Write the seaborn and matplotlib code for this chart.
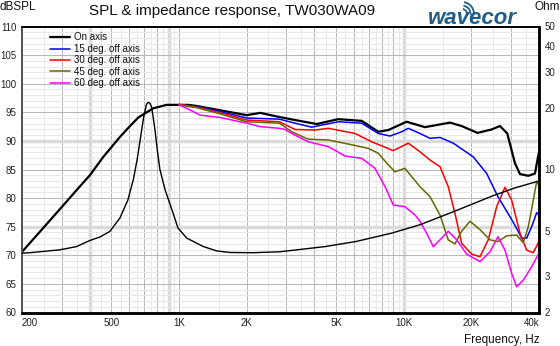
import numpy as np
import pandas as pd
import matplotlib
matplotlib.use("Agg")
import matplotlib.pyplot as plt
from matplotlib.patches import Arc
from matplotlib.ticker import NullLocator, FixedLocator
import seaborn as sns

# ---------------- data ----------------
on_axis_f = [200, 240, 300, 350, 401, 460, 546, 605, 659, 718, 768, 822, 880, 1010,
             1100, 1200, 1500, 2000, 2300, 2700, 3280, 4100, 5110, 6500, 7700, 8540,
             10300, 12430, 16060, 18100, 21300, 24600, 26820, 28900, 31260, 32920,
             35850, 38380, 39600, 40000]
on_axis_spl = [70.6, 74.1, 78.4, 81.4, 84.0, 87.2, 90.7, 92.6, 94.1, 95.0, 95.7,
               96.0, 96.3, 96.3, 96.3, 96.1, 95.4, 94.5, 94.9, 94.3, 93.65, 92.95,
               93.8, 93.5, 91.6, 91.9, 93.35, 92.4, 93.2, 92.6, 91.4, 92.0, 92.6,
               91.3, 86.1, 84.2, 83.9, 84.3, 87.2, 88.0]

deg15_f = [1000, 1200, 1500, 2000, 2800, 3280, 3890, 5110, 6500, 7700, 8690, 9790,
           10480, 11810, 13090, 14500, 16620, 20400, 23400, 26260, 29700, 31810,
           33490, 35250, 37100, 39060, 40000]
deg15_spl = [96.3, 96.0, 95.2, 94.0, 93.8, 93.1, 92.4, 93.35, 93.1, 91.3, 90.85, 91.6,
             92.2, 91.3, 90.45, 90.6, 89.6, 87.2, 84.3, 80.25, 76.75, 74.7, 73.0,
             73.0, 75.0, 77.45, 77.05]

deg30_f = [1000, 1200, 1500, 2000, 2800, 3280, 4030, 4620, 6070, 7200, 8980, 10480,
           11810, 13090, 14500, 15780, 16900, 18100, 20060, 21840, 23780, 25920,
           28220, 30230, 32920, 35250, 37720, 39600, 40000]
deg30_spl = [96.4, 95.9, 95.0, 93.65, 93.35, 92.0, 91.9, 92.2, 91.3, 89.85, 88.3, 89.6,
             88.1, 86.65, 85.5, 82.0, 77.35, 72.1, 70.2, 69.75, 72.7, 78.5, 81.9,
             79.65, 73.85, 70.9, 70.45, 72.1, 72.5]

deg45_f = [1000, 1200, 1500, 2000, 2800, 3170, 3760, 4620, 5670, 6950, 7700, 8540,
           9140, 10120, 11810, 13090, 14500, 15780, 16900, 18100, 19710, 21840,
           24200, 26260, 28720, 31810, 34040, 35850, 37720, 39060, 39600, 40000]
deg45_spl = [96.3, 95.8, 94.8, 93.35, 93.1, 91.6, 90.3, 90.15, 89.45, 88.7, 87.85,
             85.8, 84.6, 85.2, 82.0, 80.25, 77.05, 72.7, 72.0, 74.2, 75.95, 74.5,
             72.7, 72.4, 73.4, 73.55, 72.2, 75.0, 79.65, 82.9, 82.6, 82.0]

deg60_f = [1000, 1120, 1240, 1520, 2000, 2290, 2800, 2960, 3280, 3760, 4620, 5480,
           6500, 7450, 8260, 8980, 10120, 11220, 11810, 12650, 13540, 14500, 15780,
           17200, 19060, 21840, 24200, 26260, 28220, 30230, 31810, 34040, 37100,
           39600, 40000]
deg60_spl = [96.3, 95.4, 94.5, 94.1, 93.1, 92.5, 92.2, 92.0, 91.0, 89.85, 89.0, 87.35,
             86.95, 85.2, 82.0, 78.8, 78.5, 77.05, 75.95, 73.85, 71.5, 72.7, 74.2,
             72.7, 70.2, 68.9, 70.6, 73.25, 70.9, 66.85, 64.5, 65.65, 68.0, 70.05,
             70.2]

imp_f = [200, 217, 295, 350, 401, 445, 492, 546, 592, 626, 651, 675, 697, 716, 728,
         742, 756, 781, 800, 822, 866, 940, 989, 1082, 1283, 1470, 1685, 2133, 2800,
         4470, 6150, 8860, 11810, 17520, 24600, 31230, 39600, 40000]
imp_ohm = [3.90, 3.92, 4.05, 4.2, 4.5, 4.68, 4.98, 5.8, 7.1, 8.93, 11.2, 14.5, 18.2,
           20.8, 21.3, 21.1, 20.1, 15.7, 12.5, 10.0, 7.98, 6.13, 5.18, 4.62, 4.2, 4.0,
           3.93, 3.92, 3.96, 4.2, 4.45, 4.89, 5.37, 6.36, 7.4, 8.13, 8.76, 8.78]

freq_ticks = [200, 500, 1000, 2000, 5000, 10000, 20000, 40000]
freq_labels = ["200", "500", "1K", "2K", "5K", "10K", "20K", "40k"]
spl_ticks = [60, 65, 70, 75, 80, 85, 90, 95, 100, 105, 110]
ohm_ticks = [2, 3, 5, 10, 20, 30, 40, 50]

series = [
    ("On axis", on_axis_f, on_axis_spl, "black", 1.6),
    ("15 deg. off axis", deg15_f, deg15_spl, "#0000ff", 1.1),
    ("30 deg. off axis", deg30_f, deg30_spl, "#ff0000", 1.1),
    ("45 deg. off axis", deg45_f, deg45_spl, "#666600", 1.1),
    ("60 deg. off axis", deg60_f, deg60_spl, "#ff00ff", 1.1),
]

# ---------------- style ----------------
sns.set_theme(style="white")
plt.rcParams["font.family"] = ["Liberation Sans", "DejaVu Sans"]
plt.rcParams["text.color"] = "#111111"
plt.rcParams["lines.solid_joinstyle"] = "round"
plt.rcParams["lines.solid_capstyle"] = "round"

W, H = 560, 346
fig = plt.figure(figsize=(W / 100, H / 100), dpi=100)
fig.patch.set_facecolor("white")
ax = fig.add_axes([22 / W, 1 - 312.5 / H, 517 / W, 286 / H])
ax.set_facecolor("white")

ax.set_xscale("log")
ax.set_xlim(200, 40000)
ax.set_ylim(60, 110)

# grid: half-steps light, integer steps darker, a few wide pale guides
light, dark, pale = "#e8e8e8", "#b8b8b8", "#dadada"
for e in (2, 3, 4):
    for m in range(1, 10):
        for f, col in ((m * 10 ** e, dark), ((m + 0.5) * 10 ** e, light)):
            if 200 < f < 40000:
                ax.axvline(f, color=col, lw=0.75, zorder=0)
for f in (400, 900, 10000):
    ax.axvline(f, color=pale, lw=2.4, zorder=0)
for v in range(61, 110):
    ax.axhline(v, color=dark if v % 5 == 0 else light, lw=0.75, zorder=0)
for v in (90, 75):
    ax.axhline(v, color=pale, lw=2.4, zorder=0)

for name, f, s, col, lw in series:
    sns.lineplot(x=f, y=s, ax=ax, color=col, lw=lw, label=name, zorder=3)

ax.set_xlabel("")
ax.set_ylabel("")
ax.xaxis.set_major_locator(FixedLocator(freq_ticks))
ax.xaxis.set_minor_locator(NullLocator())
ax.set_xticklabels(freq_labels)
ax.set_yticks(spl_ticks)
ax.tick_params(axis="both", length=0, labelsize=7, colors="#222222")
ax.tick_params(axis="x", pad=4)
ax.tick_params(axis="y", pad=4)
xl = ax.get_xticklabels()
xl[0].set_ha("left")
xl[-1].set_ha("right")

ax2 = ax.twinx()
ax2.set_yscale("log")
ax2.set_ylim(2, 50)
sns.lineplot(x=imp_f, y=imp_ohm, ax=ax2, color="black", lw=1.0, legend=False, zorder=3)
ax2.set_ylabel("")
ax2.yaxis.set_major_locator(FixedLocator(ohm_ticks))
ax2.yaxis.set_minor_locator(NullLocator())
ax2.set_yticklabels([str(t) for t in ohm_ticks])
ax2.tick_params(axis="y", length=0, labelsize=7, colors="#222222", pad=4)

for a in (ax, ax2):
    a.spines["left"].set_color("#555555")
    a.spines["left"].set_linewidth(1.4)
    a.spines["bottom"].set_color("black")
    a.spines["bottom"].set_linewidth(1.8)
    a.spines["top"].set_color("black")
    a.spines["top"].set_linewidth(1.2)
    a.spines["right"].set_color("black")
    a.spines["right"].set_linewidth(1.8)

leg = ax.legend(loc="upper left", bbox_to_anchor=((50 - 22) / 517, (312.5 - 32.5) / 286),
                frameon=False, fontsize=7, handlelength=2.1, handletextpad=0.35,
                labelspacing=0.15, borderpad=0, borderaxespad=0)
for t in leg.get_texts():
    t.set_color("#111111")

# titles and axis captions
fig.text(232 / W, 1 - 11.5 / H, "SPL & impedance response, TW030WA09",
         ha="center", va="center", fontsize=11)
fig.text(0, 1 - 7 / H, "dBSPL", ha="left", va="center", fontsize=8.5)
fig.text(1.0, 1 - 7 / H, "Ohm", ha="right", va="center", fontsize=8.5)
fig.text(540 / W, 1 - 340 / H, "Frequency, Hz", ha="right", va="center", fontsize=8.5)

# brand mark
brand = "#1d5d86"
fig.text(472 / W, 1 - 23.5 / H, "wavecor", ha="center", va="baseline",
         fontsize=16, fontweight="bold", fontstyle="italic", color=brand)
lax = fig.add_axes([458 / W, 1 - 16 / H, 22 / W, 16 / H])
lax.set_xlim(0, 22)
lax.set_ylim(0, 16)
lax.axis("off")
for r in (5, 8.5, 12):
    lax.add_patch(Arc((4, 2), 2 * r, 2 * r, theta1=-5, theta2=80, lw=1.3, color=brand))

fig.savefig("out.png", dpi=100, facecolor="white")
